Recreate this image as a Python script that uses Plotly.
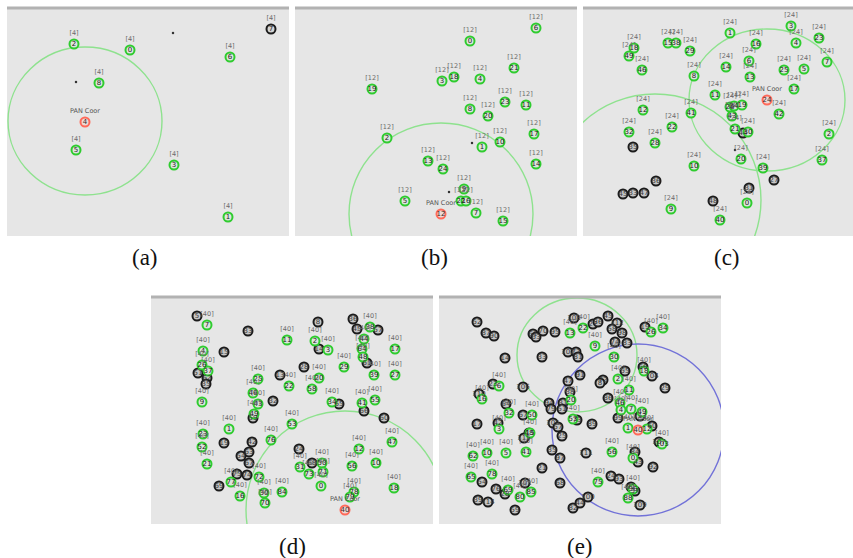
import plotly.graph_objects as go

W, H = 853, 558

# ---------------- (a) 9 nodes, coordinator 4 ----------------
a_id = [2, 0, 7, 6, 8, 4, 5, 3, 1]
a_x = [67, 123, 264, 223, 92, 78, 69, 167, 221]
a_y = [36, 42, 21, 49, 75, 114, 142, 157, 209]
a_state = ["g", "g", "kt", "g", "g", "p", "g", "g", "g"]
a_dot_x = [166, 69]
a_dot_y = [25, 74]
a_range_cx = [78]
a_range_cy = [113]
a_range_rx = [77]
a_range_ry = [74]
a_range_col = ["green"]

# ---------------- (b) 25 nodes, coordinator 12 ----------------
b_id = [6, 0, 21, 3, 18, 4, 19, 23, 11, 8, 20, 17, 2, 10, 1, 14, 13, 24, 9, 22, 16, 5, 7, 15, 12]
b_x = [241, 175, 219, 147, 159, 185, 77, 210, 231, 175, 193, 239, 92, 205, 187, 241, 133, 148, 169, 166, 171, 110, 181, 208, 146]
b_y = [20, 33, 60, 73, 69, 71, 81, 94, 97, 101, 108, 126, 130, 134, 139, 156, 153, 161, 181, 193, 193, 193, 205, 213, 206]
b_state = ["g"] * 24 + ["p"]
b_dot_x = [177, 154]
b_dot_y = [135, 184]
b_range_cx = [146]
b_range_cy = [206]
b_range_rx = [92]
b_range_ry = [91]
b_range_col = ["green"]

# ---------------- (c) 50 nodes, coordinator 24 ----------------
c_id = [3, 23, 4, 1, 16, 18, 49, 15, 38, 29, 14, 6, 13, 25, 5, 7, 17, 46, 8, 11,
        24, 42, 26, 34, 19, 43, 12, 41, 22, 32, 28, 21, 44, 30, 2, 35, 20, 10, 39, 37,
        27, 36, 45, 33, 47, 9, 48, 31, 0, 40]
c_x = [208, 236, 213, 147, 173, 51, 46, 85, 93, 107, 143, 166, 167, 201, 221, 244, 211, 59, 111, 132,
       184, 196, 147, 151, 159, 149, 60, 108, 89, 46, 72, 152, 160, 165, 246, 50, 158, 111, 180, 239,
       191, 73, 40, 50, 61, 88, 130, 166, 164, 137]
c_y = [18, 30, 35, 25, 36, 40, 48, 35, 35, 43, 59, 53, 69, 62, 61, 54, 81, 62, 68, 87,
       92, 106, 99, 98, 97, 108, 102, 105, 119, 124, 135, 121, 125, 124, 126, 139, 151, 158, 160, 152,
       172, 173, 186, 185, 185, 201, 193, 180, 195, 212]
c_state = ["g"] * 20 + ["p"] + ["g"] * 11 + ["k", "g", "g", "k", "g", "g", "g", "g",
                                             "k", "k", "k", "k", "k", "g", "k", "k", "g", "g"]
c_dot_x = [152]
c_dot_y = [142]
c_range_cx = [184, 72]
c_range_cy = [92, 192]
c_range_rx = [78, 106]
c_range_ry = [71, 106]
c_range_col = ["green", "green"]

# ---------------- (d) 80 nodes, coordinator 40 ----------------
d_id = [5, 7, 33, 11, 8, 2, 14, 3, 36, 45, 38, 57, 44, 64, 48, 61, 17, 4, 15, 26,
        37, 51, 62, 35, 9, 25, 13, 22, 28, 29, 20, 58, 39, 27, 46, 43, 32, 49, 59, 34,
        65, 41, 55, 66, 60, 53, 1, 23, 52, 19, 21, 76, 42, 63, 54, 67, 12, 47, 24, 31,
        68, 50, 71, 73, 56, 10, 72, 74, 75, 77, 69, 16, 84, 30, 70, 0, 18, 78, 79, 40]
d_x = [46, 56, 97, 136, 167, 164, 168, 177, 202, 206, 219, 227, 213, 211, 212, 216, 244, 52, 73, 51,
       57, 47, 56, 55, 51, 107, 129, 138, 153, 193, 168, 161, 223, 244, 102, 107, 122, 103, 102, 181,
       188, 211, 224, 213, 233, 141, 78, 52, 51, 73, 56, 120, 101, 98, 90, 98, 208, 241, 148, 149,
       161, 171, 172, 158, 201, 225, 108, 96, 86, 80, 68, 89, 131, 113, 114, 170, 243, 203, 199, 194]
d_y = [19, 28, 34, 43, 25, 44, 52, 53, 22, 32, 30, 33, 42, 52, 60, 66, 52, 54, 55, 68,
       74, 76, 81, 87, 105, 82, 78, 89, 70, 70, 81, 92, 78, 78, 96, 107, 104, 117, 121, 105,
       107, 106, 103, 114, 121, 127, 132, 137, 150, 146, 167, 143, 145, 155, 159, 166, 152, 145, 152, 170,
       166, 166, 175, 177, 169, 166, 180, 178, 177, 185, 189, 199, 195, 196, 206, 189, 191, 195, 200, 213]
d_state = ["k", "g", "k", "g", "k", "g", "k", "g", "k", "k", "g", "k", "g", "g", "g", "k", "g", "g", "k", "g",
           "g", "k", "k", "k", "g", "g", "k", "g", "k", "g", "g", "g", "g", "g", "g", "g", "k", "g", "k", "g",
           "k", "g", "g", "k", "k", "g", "g", "g", "g", "k", "g", "g", "k", "k", "k", "k", "g", "g", "k", "g",
           "k", "g", "g", "g", "g", "g", "g", "k", "k", "g", "k", "g", "g", "g", "g", "g", "g", "g", "g", "p"]
d_dot_x = []
d_dot_y = []
d_range_cx = [194]
d_range_cy = [213]
d_range_rx = [99]
d_range_ry = [99]
d_range_col = ["green"]

# ---------------- (e) 116 nodes, coordinator 40 ----------------
e_black_id = [52, 87, 90, 14, 61, 63, 70, 95, 33, 102, 77, 81, 108, 27, 36, 45, 112, 58, 98, 74,
              83, 19, 66, 104, 29, 55, 72, 8, 91, 47, 38, 106, 23, 110, 64, 94, 79, 31, 51, 86,
              99, 60, 113, 17, 42, 67, 105, 57, 25, 89, 73, 48, 115, 35, 97, 111, 21, 84, 43, 92,
              107, 54, 76, 28, 101, 68, 39, 114, 59, 82, 44, 100, 24, 93, 71, 37, 109]
e_black_x = [38, 47, 55, 66, 94, 97, 104, 116, 103, 129, 137, 139, 135, 154, 159, 169, 178, 173, 183, 176,
             188, 206, 204, 213, 226, 186, 164, 161, 141, 129, 131, 84, 54, 40, 67, 110, 112, 124, 123, 169,
             179, 213, 201, 38, 59, 84, 114, 119, 123, 153, 138, 90, 85, 113, 121, 147, 103, 196, 199, 214,
             220, 43, 57, 66, 86, 121, 39, 49, 76, 134, 141, 149, 172, 180, 192, 196, 201]
e_black_y = [25, 36, 39, 61, 37, 40, 34, 35, 60, 55, 55, 60, 21, 27, 25, 19, 26, 32, 36, 45,
             46, 30, 70, 79, 91, 74, 83, 86, 78, 84, 95, 90, 87, 97, 107, 106, 112, 106, 112, 101,
             121, 129, 119, 127, 126, 118, 126, 130, 139, 127, 123, 136, 141, 153, 161, 156, 171, 155, 165, 170,
             145, 185, 192, 197, 186, 186, 203, 205, 213, 211, 206, 200, 179, 182, 190, 194, 208]
e_green_id = [13, 22, 9, 30, 26, 34, 18, 2, 11, 6, 16, 32, 50, 3, 20, 53, 46, 7, 49,
              1, 12, 4, 15, 62, 10, 5, 41, 56, 0, 65, 78, 69, 80, 85, 75, 88, 96, 103]
e_green_x = [131, 144, 156, 175, 212, 224, 205, 179, 190, 60, 43, 70, 93, 60, 132, 134, 181, 192, 203,
             189, 208, 182, 91, 34, 48, 67, 87, 173, 194, 32, 53, 69, 81, 92, 159, 189, 194, 223]
e_green_y = [36, 31, 49, 60, 35, 31, 74, 82, 93, 89, 102, 116, 118, 132, 103, 122, 106, 112, 115,
             131, 132, 113, 136, 159, 156, 156, 155, 155, 161, 180, 177, 193, 200, 195, 185, 201, 192, 147]
e_pan_id = [40]
e_pan_x = [199]
e_pan_y = [133]
e_id = e_black_id + e_green_id + e_pan_id
e_x = e_black_x + e_green_x + e_pan_x
e_y = e_black_y + e_green_y + e_pan_y
e_state = ["k"] * len(e_black_id) + ["g"] * len(e_green_id) + ["p"]
e_dot_x = [128]
e_dot_y = [111]
e_range_cx = [138, 199]
e_range_cy = [58, 133]
e_range_rx = [60, 86]
e_range_ry = [57, 86]
e_range_col = ["green", "blue"]

captions = ["(a)", "(b)", "(c)", "(d)", "(e)"]
tags = ["[4]", "[12]", "[24]", "[40]", "[40]"]

# screen rectangle of each simulator window (left, right, top, bottom) in px
frames = [(7, 289, 8, 236), (295, 577, 8, 236), (583, 853, 8, 236),
          (151, 433, 297, 524), (439, 721, 297, 524)]
caption_pos = [(145, 257), (434, 257), (727, 257), (292, 546), (580, 546)]

panels = [
    (a_id, a_x, a_y, a_state, a_dot_x, a_dot_y, a_range_cx, a_range_cy, a_range_rx, a_range_ry, a_range_col),
    (b_id, b_x, b_y, b_state, b_dot_x, b_dot_y, b_range_cx, b_range_cy, b_range_rx, b_range_ry, b_range_col),
    (c_id, c_x, c_y, c_state, c_dot_x, c_dot_y, c_range_cx, c_range_cy, c_range_rx, c_range_ry, c_range_col),
    (d_id, d_x, d_y, d_state, d_dot_x, d_dot_y, d_range_cx, d_range_cy, d_range_rx, d_range_ry, d_range_col),
    (e_id, e_x, e_y, e_state, e_dot_x, e_dot_y, e_range_cx, e_range_cy, e_range_rx, e_range_ry, e_range_col),
]

node_line = {"g": "#2fcc2f", "k": "#1c1c1c", "kt": "#1c1c1c", "p": "#ff6a5a"}
node_fill = {"g": "#dde4dd", "k": "#c6c6c6", "kt": "#d4d4d4", "p": "#ecdad6"}
node_text = {"g": "#1e1e1e", "k": "#3a3a3a", "kt": "#1e1e1e", "p": "#3a2a2a"}
range_line = {"green": "#8ee28e", "blue": "#7272d8"}

fig = go.Figure()
layout_axes = {}
shapes = []
annotations = []

for i, (ids, xs, ys, st, dx, dy, rcx, rcy, rrx, rry, rcol) in enumerate(panels):
    n = i + 1
    sfx = "" if n == 1 else str(n)
    xa, ya = "x" + sfx, "y" + sfx
    left, right, top, bottom = frames[i]
    w, h = right - left, bottom - top

    layout_axes["xaxis" + sfx] = dict(domain=[left / W, right / W], range=[0, w], anchor=ya,
                                      showgrid=False, zeroline=False, showticklabels=False,
                                      ticks="", showline=False, fixedrange=True)
    layout_axes["yaxis" + sfx] = dict(domain=[1 - bottom / H, 1 - top / H], range=[h, 0], anchor=xa,
                                      showgrid=False, zeroline=False, showticklabels=False,
                                      ticks="", showline=False, fixedrange=True)

    # window title strip
    shapes.append(dict(type="line", xref=xa + " domain", yref=ya + " domain",
                       x0=0, x1=1, y0=1, y1=1, line=dict(color="#b2b2b2", width=3), layer="above"))

    # radio range circles
    for cx, cy, rx, ry, col in zip(rcx, rcy, rrx, rry, rcol):
        shapes.append(dict(type="circle", xref=xa, yref=ya, x0=cx - rx, x1=cx + rx,
                           y0=cy - ry, y1=cy + ry, line=dict(color=range_line[col], width=1.4),
                           layer="below"))

    # stray points
    if dx:
        fig.add_trace(go.Scatter(x=dx, y=dy, mode="markers", xaxis=xa, yaxis=ya,
                                 marker=dict(size=2.5, color="#333"), hoverinfo="skip",
                                 showlegend=False))

    # nodes: unassociated first, then associated, coordinator on top
    order = [k for k in range(len(ids)) if st[k] in ("k", "kt")] + \
            [k for k in range(len(ids)) if st[k] == "g"] + \
            [k for k in range(len(ids)) if st[k] == "p"]
    fig.add_trace(go.Scatter(
        x=[xs[k] for k in order], y=[ys[k] for k in order],
        text=[str(ids[k]) for k in order], mode="markers+text",
        textposition="middle center", xaxis=xa, yaxis=ya,
        textfont=dict(size=7, family="DejaVu Sans", color=[node_text[st[k]] for k in order]),
        marker=dict(size=9, color=[node_fill[st[k]] for k in order],
                    line=dict(width=2, color=[node_line[st[k]] for k in order])),
        hoverinfo="skip", showlegend=False))

    # association tags above nodes
    tk = [k for k in range(len(ids)) if st[k] in ("g", "kt")]
    fig.add_trace(go.Scatter(
        x=[xs[k] for k in tk], y=[ys[k] for k in tk], text=[tags[i]] * len(tk),
        mode="markers+text", textposition="top center", xaxis=xa, yaxis=ya,
        textfont=dict(size=6.5, family="DejaVu Sans", color="#6a6a6a"),
        marker=dict(size=10, opacity=0), hoverinfo="skip", showlegend=False))

    # coordinator label
    pk = [k for k in range(len(ids)) if st[k] == "p"]
    fig.add_trace(go.Scatter(
        x=[xs[k] for k in pk], y=[ys[k] for k in pk], text=["PAN Coor"] * len(pk),
        mode="markers+text", textposition="top center", xaxis=xa, yaxis=ya,
        textfont=dict(size=6.5, family="DejaVu Sans", color="#555"),
        marker=dict(size=10, opacity=0), hoverinfo="skip", showlegend=False))

    cx_, cy_ = caption_pos[i]
    annotations.append(dict(text=captions[i], xref="paper", yref="paper",
                            x=cx_ / W, y=1 - cy_ / H, showarrow=False,
                            xanchor="center", yanchor="middle",
                            font=dict(family="Liberation Serif", size=23, color="#111")))

fig.update_layout(
    width=W, height=H, autosize=False,
    margin=dict(l=0, r=0, t=0, b=0, pad=0),
    paper_bgcolor="white", plot_bgcolor="#e6e6e6",
    shapes=shapes, annotations=annotations, showlegend=False,
    **layout_axes,
)

fig.write_html("out.html")
